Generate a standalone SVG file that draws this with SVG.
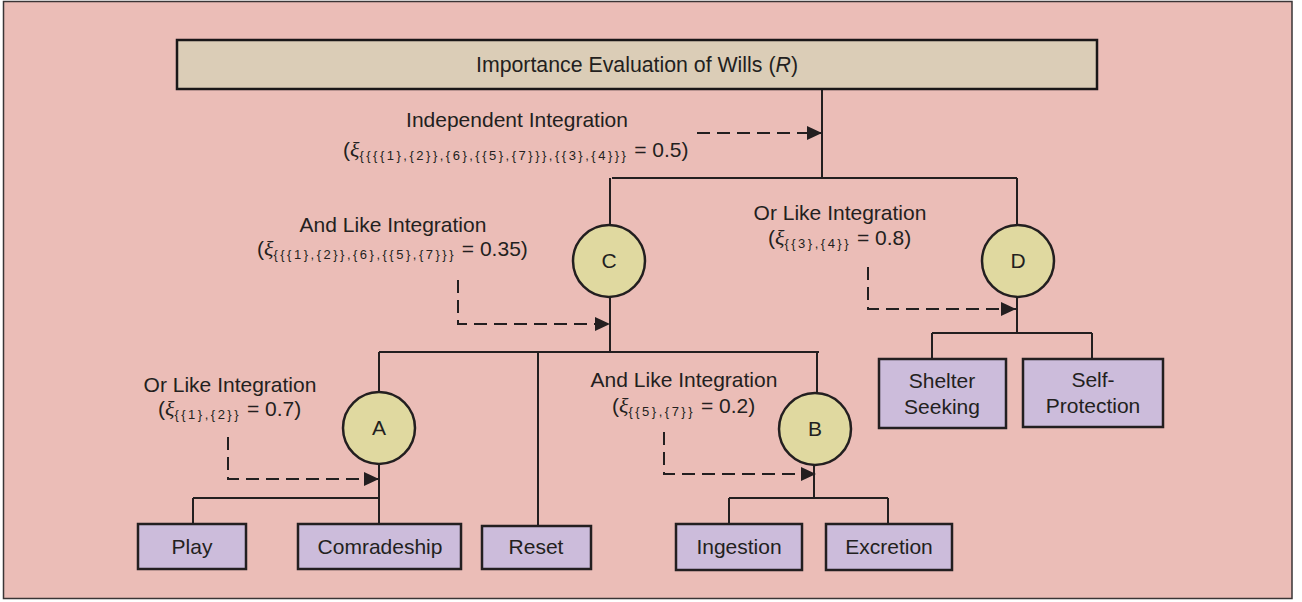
<svg xmlns="http://www.w3.org/2000/svg" width="1302" height="602" viewBox="0 0 1302 602">
  <style>
    text { font-family: "Liberation Sans", Arial, sans-serif; fill: #231f20; }
    .title { font-size: 21.3px; text-anchor: middle; }
    .lbl { font-size: 21px; }
    .mid { text-anchor: middle; }
    .xi { font-style: italic; font-family: "Liberation Serif", "Times New Roman", serif; font-size: 22px; }
    .sub { font-size: 13px; letter-spacing: 2.5px; }
    .leaf rect { fill: #ccbcdb; stroke: #231f20; stroke-width: 2.5; }
    .leaf text { font-size: 21px; text-anchor: middle; }
    .gate circle { fill: #e0d9a0; stroke: #231f20; stroke-width: 2.5; }
    .gate text { font-size: 21px; text-anchor: middle; }
    .wire { fill: none; stroke: #231f20; stroke-width: 2; }
    .flow { fill: none; stroke: #231f20; stroke-width: 2; stroke-dasharray: 13 7; marker-end: url(#tip); }
  </style>
  <defs>
    <marker id="tip" markerUnits="userSpaceOnUse" markerWidth="18" markerHeight="16" refX="16" refY="8" orient="auto">
      <path d="M1,1 L16,8 L1,15 Z" fill="#231f20"/>
    </marker>
  </defs>

  <!-- frame -->
  <rect x="3.5" y="1.5" width="1288.5" height="597" fill="#ebbdb7" stroke="#3a3536" stroke-width="1.5"/>

  <!-- connectors -->
  <g id="connectors">
    <path class="wire" d="M822,89 V178 M612,178 H1017 M610,178 V225 M1017,178 V224"/>
    <path class="wire" d="M610,297 V352 M379,352 H819 M379,352 V392 M538,352 V526 M817,352 V393"/>
    <path class="wire" d="M379,465 V524 M193,498 H379 M193,498 V524"/>
    <path class="wire" d="M814,466 V498 M729,498 H888 M729,498 V524 M888,498 V524"/>
    <path class="wire" d="M1017,298 V333 M932,333 H1092 M932,333 V359 M1092,333 V359"/>
    <path class="flow" d="M697,133 H822"/>
    <path class="flow" d="M458,280 V324 H610"/>
    <path class="flow" d="M868,267 V309 H1016"/>
    <path class="flow" d="M228,437 V479 H379"/>
    <path class="flow" d="M664,432 V474 H816"/>
  </g>

  <!-- root -->
  <g id="root">
    <rect x="177" y="40" width="920" height="49" fill="#dbcdb7" stroke="#1a1718" stroke-width="2.5"/>
    <text class="title" x="637" y="72">Importance Evaluation of Wills (<tspan font-style="italic">R</tspan>)</text>
  </g>

  <!-- integration labels -->
  <g id="label-root">
    <text class="lbl mid" x="517" y="127">Independent Integration</text>
    <text class="lbl" x="343" y="157">(<tspan class="xi">ξ</tspan><tspan class="sub" dy="3">{{{{1},{2}},{6},{{5},{7}}},{{3},{4}}}</tspan><tspan dy="-3"> = 0.5)</tspan></text>
  </g>
  <g id="label-c">
    <text class="lbl mid" x="393" y="232">And Like Integration</text>
    <text class="lbl" x="257" y="256">(<tspan class="xi">ξ</tspan><tspan class="sub" dy="3">{{{1},{2}},{6},{{5},{7}}}</tspan><tspan dy="-3"> = 0.35)</tspan></text>
  </g>
  <g id="label-d">
    <text class="lbl mid" x="840" y="220">Or Like Integration</text>
    <text class="lbl" x="768" y="245">(<tspan class="xi">ξ</tspan><tspan class="sub" dy="3">{{3},{4}}</tspan><tspan dy="-3"> = 0.8)</tspan></text>
  </g>
  <g id="label-a">
    <text class="lbl mid" x="230" y="392">Or Like Integration</text>
    <text class="lbl" x="158" y="416">(<tspan class="xi">ξ</tspan><tspan class="sub" dy="3">{{1},{2}}</tspan><tspan dy="-3"> = 0.7)</tspan></text>
  </g>
  <g id="label-b">
    <text class="lbl mid" x="684" y="387">And Like Integration</text>
    <text class="lbl" x="612" y="413">(<tspan class="xi">ξ</tspan><tspan class="sub" dy="3">{{5},{7}}</tspan><tspan dy="-3"> = 0.2)</tspan></text>
  </g>

  <!-- integration nodes -->
  <g id="node-c" class="gate"><circle cx="609" cy="261" r="36"/><text x="609" y="268">C</text></g>
  <g id="node-d" class="gate"><circle cx="1018" cy="261" r="36"/><text x="1018" y="268">D</text></g>
  <g id="node-a" class="gate"><circle cx="379" cy="428" r="36"/><text x="379" y="435">A</text></g>
  <g id="node-b" class="gate"><circle cx="815" cy="429" r="36"/><text x="815" y="436">B</text></g>

  <!-- leaf wills -->
  <g id="play" class="leaf"><rect x="138" y="524" width="108" height="45"/><text x="192" y="554">Play</text></g>
  <g id="comradeship" class="leaf"><rect x="298" y="524" width="163" height="45"/><text x="380" y="554">Comradeship</text></g>
  <g id="reset" class="leaf"><rect x="482" y="526" width="109" height="43"/><text x="536" y="554">Reset</text></g>
  <g id="ingestion" class="leaf"><rect x="676" y="524" width="126" height="46"/><text x="739" y="554">Ingestion</text></g>
  <g id="excretion" class="leaf"><rect x="826" y="524" width="126" height="46"/><text x="889" y="554">Excretion</text></g>
  <g id="shelter-seeking" class="leaf"><rect x="879" y="359" width="127" height="69"/><text x="942" y="388">Shelter</text><text x="942" y="414">Seeking</text></g>
  <g id="self-protection" class="leaf"><rect x="1023" y="359" width="140" height="68"/><text x="1093" y="387">Self-</text><text x="1093" y="413">Protection</text></g>
</svg>
